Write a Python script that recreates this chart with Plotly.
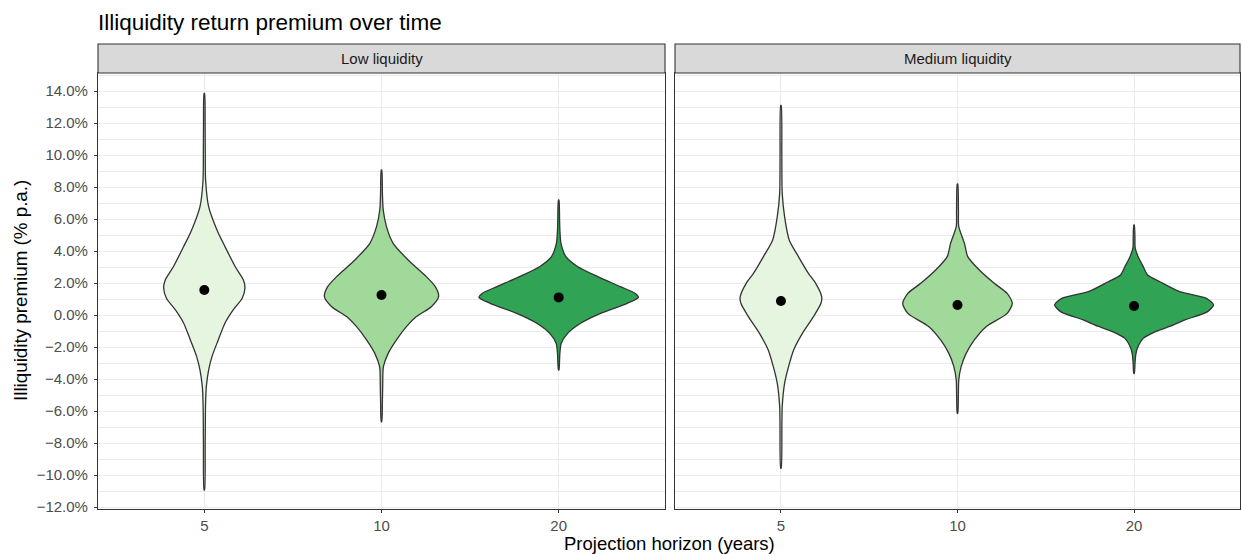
import plotly.graph_objects as go

W, H = 1241, 554

facets = ["Low liquidity", "Medium liquidity"]
horizons = ["5", "10", "20"]
fill_colors = ["#e5f5e0", "#a1d99b", "#31a354"]

# Violin density profiles (value in %, relative density 0..1)
low5_y = [13.85, 12.0, 10.0, 8.44, 6.77, 5.3, 4.27, 3.0, 2.19, 1.7, 1.05, 0.3, -0.5, -1.56, -2.6, -3.44, -4.48, -5.7, -8.0, -10.94]
low5_d = [0.003, 0.01, 0.012, 0.016, 0.054, 0.16, 0.26, 0.39, 0.49, 0.51, 0.475, 0.36, 0.26, 0.175, 0.096, 0.054, 0.025, 0.015, 0.011, 0.003]

low10_y = [9.06, 7.5, 6.56, 5.52, 4.48, 3.44, 2.4, 1.77, 1.15, 0.52, -0.1, -0.73, -1.56, -2.4, -3.23, -4.48, -5.5, -6.67]
low10_d = [0.003, 0.012, 0.022, 0.0625, 0.146, 0.334, 0.5625, 0.675, 0.716, 0.625, 0.4375, 0.3125, 0.1875, 0.084, 0.024, 0.015, 0.011, 0.003]

low20_y = [7.19, 6.0, 5.31, 4.48, 3.65, 3.02, 2.4, 1.77, 1.35, 1.1, 0.73, 0.1, -0.52, -1.15, -1.77, -2.4, -3.44]
low20_d = [0.003, 0.011, 0.015, 0.029, 0.091, 0.24, 0.49, 0.775, 0.96, 1.0, 0.86, 0.525, 0.275, 0.1125, 0.032, 0.015, 0.003]

med5_y = [13.1, 10.0, 7.6, 6.15, 4.69, 3.65, 2.6, 1.98, 1.15, 0.73, -0.1, -1.15, -2.19, -3.23, -4.27, -5.73, -6.77, -9.58]
med5_d = [0.003, 0.011, 0.016, 0.046, 0.104, 0.22, 0.346, 0.4375, 0.5125, 0.504, 0.41, 0.27, 0.16, 0.096, 0.046, 0.016, 0.012, 0.003]

med10_y = [8.19, 6.5, 5.52, 4.48, 3.65, 2.81, 1.98, 1.35, 0.73, 0.1, -0.73, -1.56, -2.4, -3.23, -4.06, -5.0, -6.15]
med10_d = [0.003, 0.012, 0.016, 0.0875, 0.129, 0.275, 0.4625, 0.625, 0.69, 0.625, 0.36, 0.2125, 0.109, 0.046, 0.016, 0.011, 0.003]

med20_y = [5.63, 4.8, 4.19, 3.54, 3.1, 2.5, 2.08, 1.46, 1.04, 0.63, 0.21, -0.31, -0.63, -1.04, -1.46, -2.08, -2.5, -3.0, -3.65]
med20_d = [0.003, 0.011, 0.014, 0.06, 0.108, 0.17, 0.325, 0.575, 0.91, 1.0, 0.925, 0.64, 0.49, 0.27, 0.116, 0.041, 0.021, 0.012, 0.003]

means_low = [1.56, 1.25, 1.10]
means_med = [0.875, 0.625, 0.56]

y_ticks = [-12, -10, -8, -6, -4, -2, 0, 2, 4, 6, 8, 10, 12, 14]

profiles = {
    "Low liquidity": [(low5_y, low5_d), (low10_y, low10_d), (low20_y, low20_d)],
    "Medium liquidity": [(med5_y, med5_d), (med10_y, med10_d), (med20_y, med20_d)],
}
means = {"Low liquidity": means_low, "Medium liquidity": means_med}

HALF = 0.45  # ggplot default violin width 0.9
FONT = "Liberation Sans, Arial, sans-serif"

fig = go.Figure()
for fi, facet in enumerate(facets):
    xa = "x" if fi == 0 else "x2"
    ya = "y" if fi == 0 else "y2"
    for hi, (ys, ds) in enumerate(profiles[facet]):
        pos = hi + 1
        xs = [pos + d * HALF for d in ds] + [pos - d * HALF for d in reversed(ds)]
        yy = list(ys) + list(reversed(ys))
        xs.append(xs[0]); yy.append(yy[0])
        fig.add_trace(go.Scatter(
            x=xs, y=yy, mode="lines", fill="toself", fillcolor=fill_colors[hi],
            line=dict(color="#333333", width=1.3, shape="spline", smoothing=0.7),
            xaxis=xa, yaxis=ya, showlegend=False, hoverinfo="skip"))
    fig.add_trace(go.Scatter(
        x=[1, 2, 3], y=means[facet], mode="markers",
        marker=dict(color="black", size=10),
        xaxis=xa, yaxis=ya, showlegend=False))

def px_x(p):
    return p / W

def px_y(p):
    return 1 - p / H

x1d = [px_x(98), px_x(665)]
x2d = [px_x(675), px_x(1240)]
yd = [px_y(509), px_y(73)]

tick_font = dict(family=FONT, size=15, color="#4d4d4d")
ytext = [f"{v:.1f}%".replace("-", "\u2212") for v in y_ticks]

common_x = dict(range=[0.4, 3.6], tickmode="array", tickvals=[1, 2, 3], ticktext=horizons,
                showgrid=True, gridcolor="#ebebeb", gridwidth=1.1, zeroline=False,
                showline=True, mirror=True, linecolor="#333333", linewidth=1.1,
                ticks="outside", ticklen=3, tickcolor="#333333", tickwidth=1.1,
                ticklabelstandoff=0, automargin=False,
                tickfont=tick_font, fixedrange=True)
common_y = dict(range=[-12.125, 15.125], tickmode="array", tickvals=y_ticks, ticktext=ytext,
                showgrid=True, gridcolor="#ebebeb", gridwidth=1.1, zeroline=False,
                showline=True, mirror=True, linecolor="#333333", linewidth=1.1,
                minor=dict(tickmode="linear", tick0=1, dtick=2, showgrid=True,
                           gridcolor="#ebebeb", gridwidth=0.55, ticks=""),
                automargin=False,
                tickfont=tick_font, domain=yd, fixedrange=True)

fig.update_layout(
    template="none",
    width=W, height=H, autosize=False,
    margin=dict(l=0, r=0, t=0, b=0, pad=0),
    paper_bgcolor="white", plot_bgcolor="white",
    showlegend=False,
    font=dict(family=FONT, color="#000000"),
    xaxis=dict(domain=x1d, anchor="y", **common_x),
    xaxis2=dict(domain=x2d, anchor="y2", **common_x),
    yaxis=dict(anchor="x", ticks="outside", ticklen=3, tickcolor="#333333", tickwidth=1.1,
               ticklabelstandoff=3, **common_y),
    yaxis2=dict(anchor="x2", matches="y", showticklabels=False, ticks="", **common_y),
)

shapes = []
annotations = []
for fi, facet in enumerate(facets):
    xd = x1d if fi == 0 else x2d
    shapes.append(dict(type="rect", xref="paper", yref="paper",
                       x0=xd[0], x1=xd[1], y0=px_y(73), y1=px_y(44),
                       fillcolor="#d9d9d9", line=dict(color="#333333", width=1.1), layer="above"))
    annotations.append(dict(text=facet, xref="paper", yref="paper",
                            x=(xd[0] + xd[1]) / 2, y=px_y(58.5), xanchor="center", yanchor="middle",
                            showarrow=False,
                            font=dict(family=FONT, size=15, color="#1a1a1a")))

annotations.append(dict(text="Illiquidity return premium over time", xref="paper", yref="paper",
                        x=px_x(96), y=px_y(22), xanchor="left", yanchor="middle", showarrow=False,
                        font=dict(family=FONT, size=22.5, color="#000000")))
annotations.append(dict(text="Illiquidity premium (% p.a.)", xref="paper", yref="paper",
                        x=px_x(20), y=px_y(291), xanchor="center", yanchor="middle", showarrow=False,
                        textangle=-90,
                        font=dict(family=FONT, size=18.8, color="#000000")))
annotations.append(dict(text="Projection horizon (years)", xref="paper", yref="paper",
                        x=px_x(669), y=px_y(543), xanchor="center", yanchor="middle", showarrow=False,
                        font=dict(family=FONT, size=18.5, color="#000000")))

fig.update_layout(shapes=shapes, annotations=annotations)

fig.write_html("out.html")
